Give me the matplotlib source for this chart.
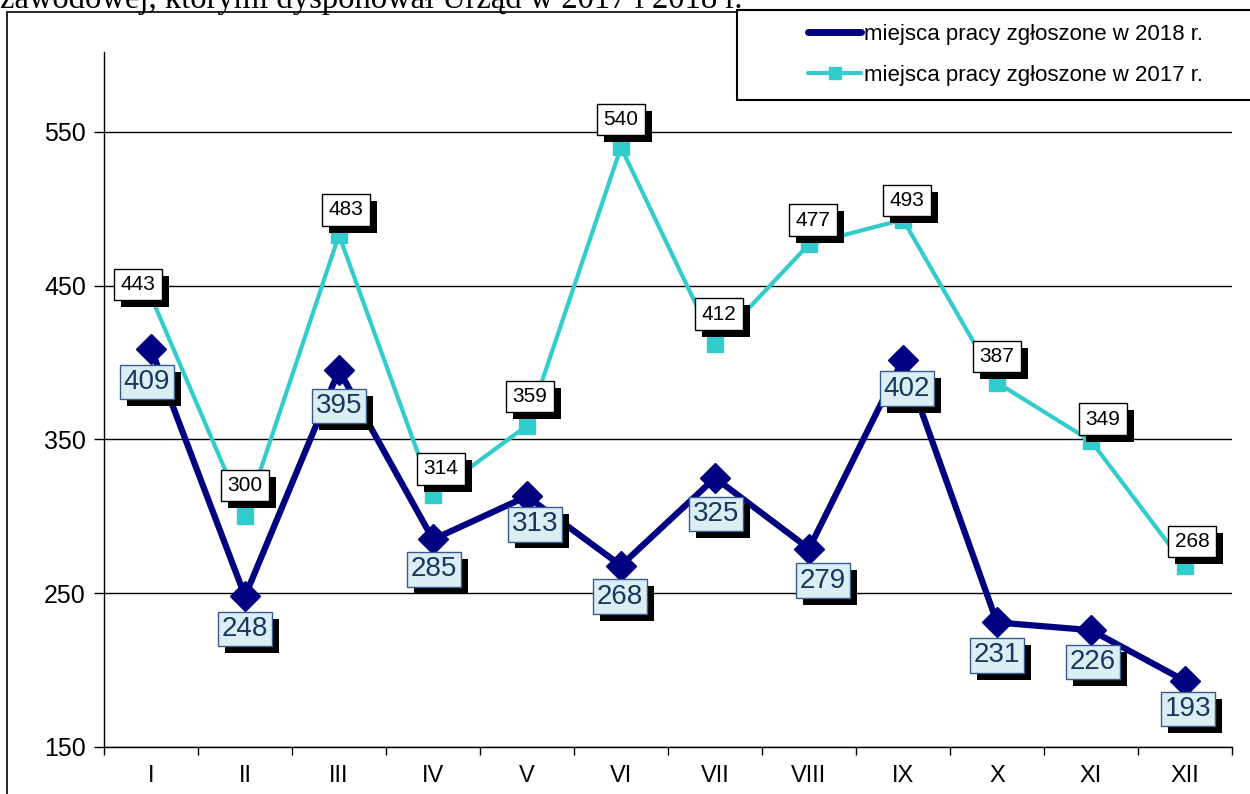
import matplotlib.pyplot as plt
import matplotlib.patheffects as pe
from matplotlib.lines import Line2D
from matplotlib.patches import Rectangle

plt.rcParams['font.family'] = ['Liberation Sans', 'DejaVu Sans']

# ======================================================
# DATA
# ======================================================
months = ["I", "II", "III", "IV", "V", "VI", "VII", "VIII", "IX", "X", "XI", "XII"]
jobs_2018 = [409, 248, 395, 285, 313, 268, 325, 279, 402, 231, 226, 193]
jobs_2017 = [443, 300, 483, 314, 359, 540, 412, 477, 493, 387, 349, 268]

label_2018 = "miejsca pracy zgłoszone w 2018 r."
label_2017 = "miejsca pracy zgłoszone w 2017 r."
title_text = "zawodowej, którymi dysponował Urząd w 2017 i 2018 r."

# label offsets in pixels (dx, dy)
off_2017 = [(-13, 12), (0, 31), (7, 25), (8, 26), (3, 29), (0, 28),
            (4, 30), (4, 24), (4, 19), (0, 26), (12, 22), (7, 24)]
off_2018 = [(-4, -33), (0, -33), (0, -36), (1, -30), (8, -28), (-1, -31),
            (1, -36), (14, -32), (4, -29), (0, -33), (2, -32), (3, -28)]

NAVY = "#000080"
CYAN = "#33CCCC"

# ======================================================
# FIGURE
# ======================================================
fig = plt.figure(figsize=(12.5, 7.94), dpi=100)
ax = fig.add_axes([104 / 1250, 47 / 794, 1128 / 1250, 695 / 794])

x = list(range(len(months)))

ax.plot(x, jobs_2017, color=CYAN, linewidth=3, marker="s",
        markersize=12, zorder=3)
ax.plot(x, jobs_2018, color=NAVY, linewidth=4.5, marker="D",
        markersize=15, zorder=4)

shadow = [pe.withSimplePatchShadow(offset=(5, -5), shadow_rgbFace="black", alpha=1)]

# value labels 2017
for i, v in enumerate(jobs_2017):
    ax.annotate(str(v), (i, v), xytext=off_2017[i], textcoords="offset pixels",
                ha="center", va="center", fontsize=15, color="black", zorder=6,
                bbox=dict(boxstyle="square,pad=0.3", facecolor="white",
                          edgecolor="black", linewidth=1, path_effects=shadow))

# value labels 2018
for i, v in enumerate(jobs_2018):
    ax.annotate(str(v), (i, v), xytext=off_2018[i], textcoords="offset pixels",
                ha="center", va="center", fontsize=20, color="#17375E", zorder=7,
                bbox=dict(boxstyle="square,pad=0.15", facecolor="#DBEEF4",
                          edgecolor="#385D8A", linewidth=1, path_effects=shadow))

# axes
ax.set_xlim(-0.5, 11.5)
ax.set_ylim(150, 602)
ax.set_yticks([150, 250, 350, 450, 550])
ax.set_xticks(x)
ax.set_xticklabels(months)
ax.set_xticks([i - 0.5 for i in range(13)], minor=True)
ax.tick_params(axis="x", which="major", length=0, labelsize=17, pad=13)
ax.tick_params(axis="x", which="minor", length=6, width=1, direction="out")
ax.tick_params(axis="y", length=7, width=1, direction="out", labelsize=18, pad=6)
ax.yaxis.grid(True, color="black", linewidth=1)
ax.set_axisbelow(True)
for s in ["top", "right"]:
    ax.spines[s].set_visible(False)
ax.spines["left"].set_linewidth(1)
ax.spines["bottom"].set_linewidth(1)

# outer chart border
fig.add_artist(Rectangle((7 / 1250, -0.05), 1.1, 1.05 - 12 / 794,
                         transform=fig.transFigure, fill=False,
                         edgecolor="black", linewidth=1.2))

# legend box
fig.add_artist(Rectangle((737 / 1250, 1 - 100 / 794), 0.5, 90 / 794,
                         transform=fig.transFigure, facecolor="white",
                         edgecolor="black", linewidth=1.5, zorder=5))
handles = [
    Line2D([], [], color=NAVY, linewidth=5, marker="D", markersize=3,
           solid_capstyle="round"),
    Line2D([], [], color=CYAN, linewidth=3, marker="s", markersize=9,
           solid_capstyle="round"),
]
leg = fig.legend(handles, [label_2018, label_2017], loc="center left",
                 bbox_to_anchor=(788 / 1250, 1 - 55 / 794), frameon=False,
                 fontsize=16, handlelength=2.4, handletextpad=0.1,
                 labelspacing=0.9)
leg.set_zorder(6)

# cut-off caption above the chart
fig.text(0, 1 - 8 / 794, title_text, family=["Liberation Serif", "DejaVu Serif"],
         fontsize=23.5, ha="left", va="baseline")

fig.savefig("out.png", dpi=100)
